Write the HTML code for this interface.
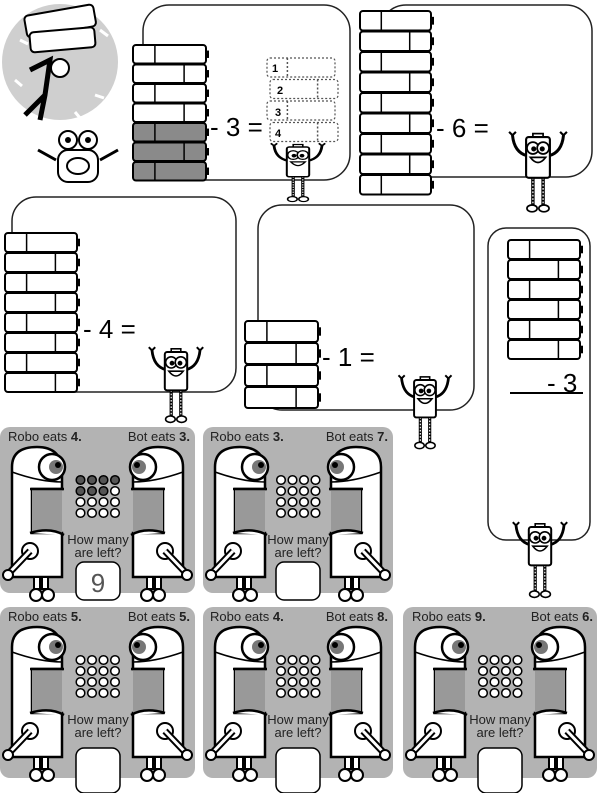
<!DOCTYPE html>
<html><head><meta charset="utf-8"><style>
html,body{margin:0;padding:0;background:#fff;width:600px;height:793px;overflow:hidden}
svg{display:block}
text{font-family:"Liberation Sans",sans-serif}
</style></head><body>
<svg id="s" width="600" height="793" viewBox="0 0 600 793" xmlns="http://www.w3.org/2000/svg">
<defs>
<g id="rob">
 <path d="M12,150 L12,40 Q12,20 37,20 Q62,20 62,45 L62,62 L32,62 L32,106 L62,106 L62,150 Z" fill="#fff" stroke="#000" stroke-width="2.5"/>
 <rect x="32" y="62" width="30" height="44" fill="#999"/>
 <path d="M30,62 L64,62" stroke="#000" stroke-width="2.5"/>
 <path d="M30,106 Q50,100 64,108" stroke="#000" stroke-width="2.5" fill="#fff"/>
 <circle cx="52" cy="40" r="13" fill="#fff" stroke="#000" stroke-width="2.5"/>
 <circle cx="56" cy="40" r="7" fill="#777"/><circle cx="58" cy="38" r="3" fill="#000"/>
 <path d="M12,45 Q40,55 62,55" stroke="#000" stroke-width="1.5" fill="none"/>
 <circle cx="30" cy="124" r="8" fill="#fff" stroke="#000" stroke-width="2"/>
 <path d="M30,124 L10,145" stroke="#000" stroke-width="7"/><path d="M30,124 L10,145" stroke="#fff" stroke-width="3"/>
 <circle cx="8" cy="148" r="5" fill="#fff" stroke="#000" stroke-width="2"/>
 <rect x="34" y="150" width="6" height="12" fill="#fff" stroke="#000" stroke-width="2"/>
 <rect x="42" y="150" width="6" height="12" fill="#fff" stroke="#000" stroke-width="2"/>
 <circle cx="36" cy="168" r="6" fill="#fff" stroke="#000" stroke-width="2"/>
 <circle cx="48" cy="168" r="6" fill="#fff" stroke="#000" stroke-width="2"/>
</g>
<g id="bot">
 <path d="M-13,22 Q-28,18 -30,-2 M13,22 Q28,18 30,-2" stroke="#000" stroke-width="3.5" fill="none"/>
 <path d="M-34,-6 L-30,-2 L-26,-6 M34,-6 L30,-2 L26,-6" stroke="#000" stroke-width="2.5" fill="none"/>
 <path d="M-6,48 L-6,80 M6,48 L6,80" stroke="#000" stroke-width="4"/>
 <path d="M-6,48 L-6,80 M6,48 L6,80" stroke="#fff" stroke-width="1.5" stroke-dasharray="2,2"/>
 <ellipse cx="-7" cy="84" rx="6" ry="4" fill="#fff" stroke="#000" stroke-width="2"/>
 <ellipse cx="7" cy="84" rx="6" ry="4" fill="#fff" stroke="#000" stroke-width="2"/>
 <rect x="-6" y="-4" width="12" height="5" fill="#fff" stroke="#000" stroke-width="2"/>
 <rect x="-14" y="0" width="28" height="48" rx="3" fill="#fff" stroke="#000" stroke-width="2.5"/>
 <circle cx="-6" cy="13" r="7" fill="#fff" stroke="#000" stroke-width="2"/><circle cx="6" cy="13" r="7" fill="#fff" stroke="#000" stroke-width="2"/>
 <circle cx="-5" cy="14" r="3"/><circle cx="5" cy="14" r="3"/>
 <path d="M-9,24 Q0,36 9,24 Z" fill="#fff" stroke="#000" stroke-width="2"/>
</g>
</defs>
<g fill="none" stroke="#222" stroke-width="1.5">
 <rect x="143" y="5" width="207" height="175" rx="26"/>
 <rect x="380" y="5" width="212" height="172" rx="26"/>
 <rect x="12" y="197" width="224" height="195" rx="24"/>
 <rect x="258" y="205" width="216" height="205" rx="24"/>
 <rect x="488" y="228" width="102" height="312" rx="18"/>
</g>
<circle cx="60" cy="62" r="58" fill="#cfcfcf"/>
<g stroke="#fff" stroke-width="3"><path d="M20,40 L28,44 M100,30 L108,36 M95,95 L104,98 M15,80 L22,86 M75,112 L80,118"/></g>
<rect x="25" y="10" width="70" height="22" rx="4" fill="#fff" stroke="#000" stroke-width="2" transform="rotate(-10 60 20)"/>
<rect x="30" y="30" width="65" height="20" rx="4" fill="#fff" stroke="#000" stroke-width="2" transform="rotate(-5 60 40)"/>
<path d="M30,70 L50,60 L45,95 L25,115 M45,95 L40,120" stroke="#000" stroke-width="5" fill="none"/>
<circle cx="60" cy="68" r="9" fill="#fff" stroke="#000" stroke-width="2"/>
<g transform="translate(78,160)">
 <circle cx="-10" cy="-20" r="9" fill="#fff" stroke="#000" stroke-width="2"/><circle cx="10" cy="-20" r="9" fill="#fff" stroke="#000" stroke-width="2"/>
 <circle cx="-10" cy="-20" r="3"/><circle cx="10" cy="-20" r="3"/>
 <rect x="-20" y="-10" width="40" height="32" rx="10" fill="#fff" stroke="#000" stroke-width="2"/>
 <ellipse cx="0" cy="6" rx="11" ry="8" fill="#fff" stroke="#000" stroke-width="2"/>
 <path d="M-22,0 L-40,-10 M22,0 L40,-10" stroke="#000" stroke-width="3"/>
</g>
<g id="bats"></g>
<g font-size="26" fill="#000">
 <text x="210" y="136">- 3 =</text>
 <text x="436" y="137">- 6 =</text>
 <text x="83" y="338">- 4 =</text>
 <text x="322" y="366">- 1 =</text>
 <text x="547" y="392">- 3</text>
</g>
<path d="M510,393 L583,393" stroke="#000" stroke-width="2"/>
<g font-size="11" font-weight="bold">
 <text x="272" y="72">1</text><text x="277" y="94">2</text><text x="275" y="116">3</text><text x="275" y="137">4</text>
</g>
<use href="#bot" transform="translate(298,147) scale(0.8 0.62)"/>
<use href="#bot" transform="translate(538,137) scale(0.85)"/>
<use href="#bot" transform="translate(176,352) scale(0.8)"/>
<use href="#bot" transform="translate(425,380) scale(0.78)"/>
<use href="#bot" transform="translate(540,527) scale(0.8)"/>
<g fill="#b3b3b3">
 <rect x="0" y="427" width="195" height="166" rx="10"/>
 <rect x="203" y="427" width="190" height="166" rx="10"/>
 <rect x="0" y="607" width="195" height="171" rx="10"/>
 <rect x="203" y="607" width="190" height="171" rx="10"/>
 <rect x="403" y="607" width="194" height="171" rx="10"/>
</g>
<g id="robs"></g>
<g font-size="13" fill="#222">
 <text x="8" y="441">Robo eats <tspan font-weight="bold">4.</tspan></text>
 <text x="190" y="441" text-anchor="end">Bot eats <tspan font-weight="bold">3.</tspan></text>
 <text x="210" y="441">Robo eats <tspan font-weight="bold">3.</tspan></text>
 <text x="388" y="441" text-anchor="end">Bot eats <tspan font-weight="bold">7.</tspan></text>
 <text x="8" y="621">Robo eats <tspan font-weight="bold">5.</tspan></text>
 <text x="190" y="621" text-anchor="end">Bot eats <tspan font-weight="bold">5.</tspan></text>
 <text x="210" y="621">Robo eats <tspan font-weight="bold">4.</tspan></text>
 <text x="388" y="621" text-anchor="end">Bot eats <tspan font-weight="bold">8.</tspan></text>
 <text x="412" y="621">Robo eats <tspan font-weight="bold">9.</tspan></text>
 <text x="593" y="621" text-anchor="end">Bot eats <tspan font-weight="bold">6.</tspan></text>
</g>
<g font-size="13" fill="#222" text-anchor="middle">
 <text x="98" y="544">How many</text><text x="98" y="557">are left?</text>
 <text x="298" y="544">How many</text><text x="298" y="557">are left?</text>
 <text x="98" y="724">How many</text><text x="98" y="737">are left?</text>
 <text x="298" y="724">How many</text><text x="298" y="737">are left?</text>
 <text x="500" y="724">How many</text><text x="500" y="737">are left?</text>
</g>
<g fill="#fff" stroke="#000" stroke-width="1.5">
 <rect x="76" y="562" width="44" height="38" rx="8"/>
 <rect x="276" y="562" width="44" height="38" rx="8"/>
 <rect x="76" y="748" width="44" height="45" rx="8"/>
 <rect x="276" y="748" width="44" height="45" rx="8"/>
 <rect x="478" y="748" width="44" height="45" rx="8"/>
</g>
<text x="98" y="592" font-size="26" text-anchor="middle" fill="#555">9</text>
</svg>
<script>
var NS="http://www.w3.org/2000/svg";
function el(p,t,a){var e=document.createElementNS(NS,t);for(var k in a)e.setAttribute(k,a[k]);p.appendChild(e);return e;}
var B=document.getElementById('bats');
function bat(x,y,w,h,dark,flip,dash){
 var st=dash?{"stroke-dasharray":"2,2",stroke:"#555"}:{stroke:"#000"};
 el(B,'rect',Object.assign({x:x,y:y,width:w,height:h,rx:3,fill:dark?"#8a8a8a":"#fff","stroke-width":dash?1.2:2},st));
 var lx=flip?x+w*0.7:x+w*0.3;
 el(B,'line',Object.assign({x1:lx,y1:y,x2:lx,y2:y+h,"stroke-width":1.5},st));
 if(!dash)el(B,'rect',{x:x+w,y:y+h*0.3,width:3,height:h*0.4,fill:"#000"});
}
function stack(x,y,w,h,n,darkFrom){for(var i=0;i<n;i++)bat(x,y+i*h,w,h-1,darkFrom!=null&&i>=darkFrom,i%2==1);}
stack(133,45,73,19.5,7,4);
stack(360,11,71,20.5,9);
stack(5,233,72,20,8);
stack(245,321,73,22,4);
stack(508,240,72,20,6);
for(var i=0;i<4;i++)bat(267+(i%2?3:0),58+i*21.5,68,19,false,i%2==1,true);
var R=document.getElementById('robs');
function panel(px,py,w,dots){
 el(R,'use',{href:"#rob",transform:"translate("+px+","+(py+5)+")"});
 el(R,'use',{href:"#rob",transform:"translate("+(px+w)+","+(py+5)+") scale(-1,1)"});
 for(var r=0;r<4;r++)for(var c=0;c<4;c++){var k=r*4+c;
  el(R,'circle',{cx:px+w/2-17+c*11.5,cy:py+58+r*11,r:4.3,fill:(dots&&dots.indexOf(k)>=0)?"#555":"#fff",stroke:"#000","stroke-width":1.5});}
}
panel(0,422,195,[0,1,2,3,4,5,6]);
panel(203,422,190);
panel(0,602,195);
panel(203,602,190);
panel(403,602,194);
</script>
</body></html>
